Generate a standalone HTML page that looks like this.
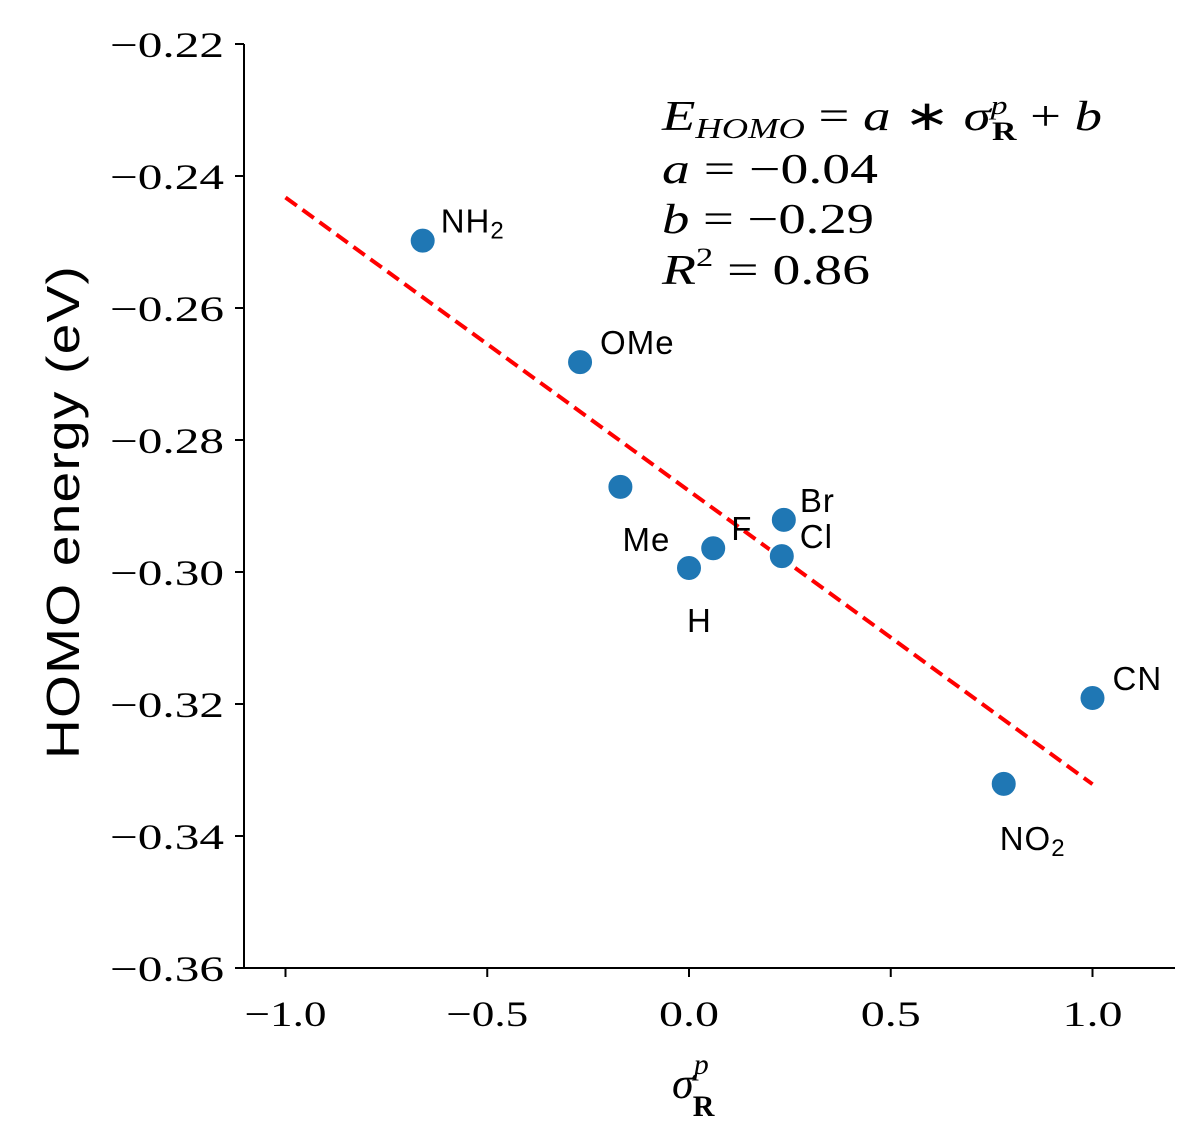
<!DOCTYPE html>
<html><head><meta charset="utf-8"><style>
body{margin:0;background:#fff}
svg{display:block}
.tk{font-family:"Liberation Serif",serif;font-size:36px;fill:#000}
.lb{font-family:"Liberation Sans",sans-serif;font-size:33px;fill:#000;letter-spacing:1px}
.eq{font-family:"Liberation Serif",serif;font-style:italic;font-size:42px;fill:#000}
</style></head><body>
<svg id="chart" width="1204" height="1148" viewBox="0 0 1204 1148">
<g id="axes"></g>
<g id="marks"></g>
<text class="lb" transform="translate(79,512) rotate(-90)" text-anchor="middle" style="font-size:46px;letter-spacing:1px" textLength="494" lengthAdjust="spacingAndGlyphs">HOMO energy (eV)</text>
<text class="eq" x="672" y="1098" style="font-size:44px">σ<tspan dy="-24" style="font-size:30px">p</tspan><tspan dx="-16" dy="42" style="font-size:30px;font-weight:bold;font-style:normal">R</tspan></text>
<g>
<text class="eq" x="662" y="130" textLength="440" lengthAdjust="spacingAndGlyphs">E<tspan dy="8" style="font-size:28px">HOMO</tspan><tspan dy="-8" style="font-style:normal"> = </tspan>a<tspan style="font-style:normal"> ∗ </tspan>σ<tspan dy="-16" style="font-size:26px">p</tspan><tspan dx="-12" dy="26" style="font-size:26px;font-weight:bold;font-style:normal">R</tspan><tspan dy="-10" style="font-style:normal"> + </tspan>b</text>
<text class="eq" x="662" y="183" textLength="216" lengthAdjust="spacingAndGlyphs">a<tspan style="font-style:normal"> = −0.04</tspan></text>
<text class="eq" x="662" y="233" textLength="212" lengthAdjust="spacingAndGlyphs">b<tspan style="font-style:normal"> = −0.29</tspan></text>
<text class="eq" x="662" y="284" textLength="208" lengthAdjust="spacingAndGlyphs">R<tspan dy="-18" style="font-size:26px;font-style:normal">2</tspan><tspan dy="18" style="font-style:normal"> = 0.86</tspan></text>
</g>
</svg>
<script>
const names=["NH2","OMe","Me","H","F","Cl","Br","NO2","CN"];
const xs=[-0.66,-0.27,-0.17,0.0,0.06,0.23,0.235,0.78,1.0];
const ys=[-0.2498,-0.2682,-0.2871,-0.2994,-0.2964,-0.2976,-0.2921,-0.3321,-0.3191];
const labelDx=[18,20,-4,-2,18,18,16,-4,20];
const labelDy=[-8,-8,64,64,-8,-8,-8,66,-8];
const fitA=-0.04445, fitB=-0.2877;
const xTicks=[-1.0,-0.5,0.0,0.5,1.0];
const yTicks=[-0.22,-0.24,-0.26,-0.28,-0.30,-0.32,-0.34,-0.36];
const X=v=>689+v*403.5;
const Y=v=>44+(-0.22-v)*6600;
const NS="http://www.w3.org/2000/svg";
const ax=document.getElementById('axes'),mk=document.getElementById('marks');
function mkEl(t,a,p){const e=document.createElementNS(NS,t);for(const k in a)e.setAttribute(k,a[k]);p.appendChild(e);return e;}
let l=mkEl('line',{x1:244,y1:44,x2:244,y2:969,stroke:'#000','stroke-width':2},ax);


l=mkEl('line',{x1:243,y1:968,x2:1175,y2:968,stroke:'#000','stroke-width':2},ax);


xTicks.forEach(v=>{
 mkEl('line',{x1:X(v),y1:968,x2:X(v),y2:977,stroke:'#000','stroke-width':2},ax);
 const t=mkEl('text',{x:X(v),y:1026,'text-anchor':'middle',class:'tk',textLength:v<0?82:60,lengthAdjust:'spacingAndGlyphs'},ax);
 t.textContent=(v<0?'−':'')+Math.abs(v).toFixed(1);
 
 
});
yTicks.forEach(v=>{
 mkEl('line',{x1:235,y1:Y(v),x2:244,y2:Y(v),stroke:'#000','stroke-width':2},ax);
 const t=mkEl('text',{x:224,y:Y(v)+13,'text-anchor':'end',class:'tk',textLength:114,lengthAdjust:'spacingAndGlyphs'},ax);
 t.textContent='−'+Math.abs(v).toFixed(2);
 
 
});
const fl=mkEl('line',{x1:X(-1),y1:Y(fitA*-1+fitB),x2:X(1),y2:Y(fitA*1+fitB),stroke:'#ff0000','stroke-width':4,'stroke-dasharray':'14,7'},mk);


xs.forEach((v,i)=>{
 const c=mkEl('circle',{cx:X(v),cy:Y(ys[i]),r:13,fill:'#1f77b4',stroke:'#fff','stroke-width':2},mk);
 
 
 const t=mkEl('text',{x:X(v)+labelDx[i],y:Y(ys[i])+labelDy[i],class:'lb'},mk);
 if(names[i]==='Me'){t.setAttribute('text-anchor','end');t.setAttribute('x',X(v)+50);}
 const m=names[i].match(/^(\D+)(\d?)$/);
 t.textContent=m[1];
 if(m[2]){const s=mkEl('tspan',{dy:6,style:'font-size:24px'},t);s.textContent=m[2];}
 
 
});
</script>
</body></html>
